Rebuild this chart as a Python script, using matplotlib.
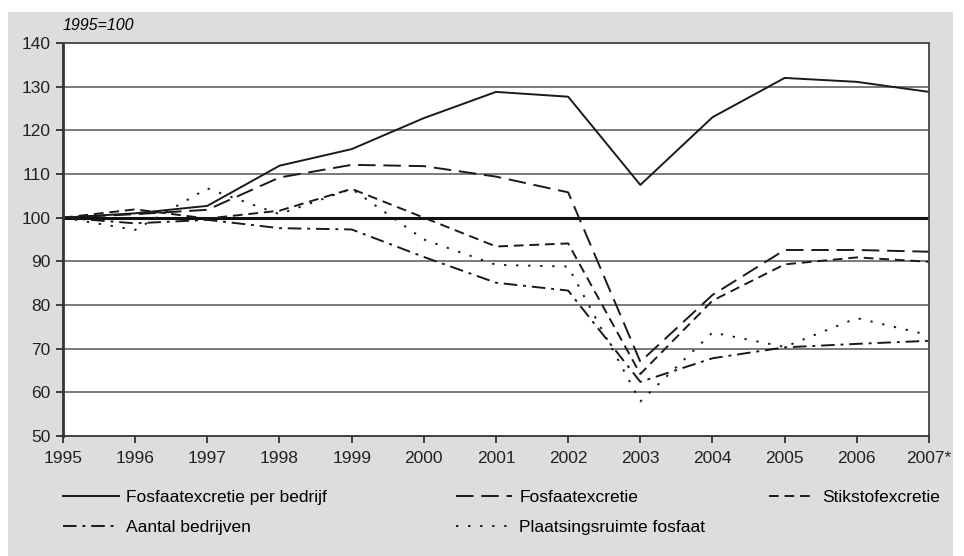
import numpy as np
import matplotlib.pyplot as plt
from matplotlib.patches import Rectangle

plt.rcParams['font.family'] = ['Liberation Sans', 'DejaVu Sans']

years = np.arange(1995, 2008)
year_labels = [str(y) for y in range(1995, 2007)] + ['2007*']

# index 1995=100
fosfaat_per_bedrijf = [100, 101, 102.7, 111.9, 115.7, 122.8, 128.8, 127.7, 107.5, 123, 132, 131.1, 128.8]
fosfaatexcretie = [100, 100.8, 101.8, 109.2, 112.1, 111.8, 109.4, 105.8, 67.0, 82.3, 92.6, 92.6, 92.2]
stikstofexcretie = [100, 101.9, 99.8, 101.6, 106.6, 100.0, 93.4, 94.1, 64.2, 81.0, 89.3, 90.9, 89.9]
aantal_bedrijven = [100, 98.7, 99.5, 97.6, 97.3, 91.0, 85.1, 83.3, 62.4, 67.8, 70.3, 71.1, 71.8]
plaatsingsruimte = [100, 97.2, 106.7, 100.8, 106.6, 95.0, 89.2, 88.8, 57.9, 73.7, 70.4, 77.0, 73.1]

fig = plt.figure(figsize=(9.64, 5.56), dpi=100)
# grey panel behind everything
fig.patches.append(Rectangle((8/964, 0), 945/964, 1 - 12/556, transform=fig.transFigure,
                             facecolor='#dcdddf', edgecolor='none', zorder=-10))

ax = fig.add_axes([63/964, 1 - 436/556, 866/964, 393/556])
ax.set_facecolor('white')

lc = '#1a1a1a'
l1, = ax.plot(years, fosfaat_per_bedrijf, color=lc, lw=1.4, ls='-')
l2, = ax.plot(years, fosfaatexcretie, color=lc, lw=1.4, dashes=(9, 4))
l3, = ax.plot(years, stikstofexcretie, color=lc, lw=1.4, dashes=(5, 3))
l4, = ax.plot(years, aantal_bedrijven, color=lc, lw=1.4, dashes=(7, 3, 1.5, 3))
l5, = ax.plot(years, plaatsingsruimte, color=lc, lw=1.4, dashes=(1.2, 5))

for v in range(60, 140, 10):
    if v == 100:
        ax.axhline(v, color='#111111', lw=2.2, zorder=1)
    else:
        ax.axhline(v, color='#707070', lw=1.3, zorder=1)

ax.set_xlim(1995, 2007)
ax.set_ylim(50, 140)
ax.set_xticks(years)
ax.set_xticklabels(year_labels)
ax.set_yticks(range(50, 141, 10))
ax.tick_params(axis='both', labelsize=12.5, colors='#222222', length=5, width=1.2)
ax.tick_params(axis='x', pad=6)
ax.tick_params(axis='y', pad=4)
ax.spines['left'].set_linewidth(2)
ax.spines['left'].set_color('#333333')
ax.spines['bottom'].set_linewidth(1.3)
ax.spines['bottom'].set_color('#333333')
for s in ['top', 'right']:
    ax.spines[s].set_linewidth(1.3)
    ax.spines[s].set_color('#444444')

fig.text(63/964, 1 - 25/556, '1995=100', fontsize=11.5, style='italic', va='center', ha='left')

leg_kw = dict(frameon=False, fontsize=12.5, handlelength=3.2, handletextpad=0.45,
              labelspacing=0.85, borderpad=0, borderaxespad=0, loc='upper left')
leg1 = fig.legend([l1, l4], ['Fosfaatexcretie per bedrijf', 'Aantal bedrijven'],
                  bbox_to_anchor=(63/964, 1 - 490/556), **leg_kw)
leg2 = fig.legend([l2, l5], ['Fosfaatexcretie', 'Plaatsingsruimte fosfaat'],
                  bbox_to_anchor=(456/964, 1 - 490/556), **leg_kw)
leg3 = fig.legend([l3], ['Stikstofexcretie'],
                  bbox_to_anchor=(769/964, 1 - 490/556), **dict(leg_kw, handlelength=2.6))

fig.savefig('out.png', dpi=100, facecolor='white')
